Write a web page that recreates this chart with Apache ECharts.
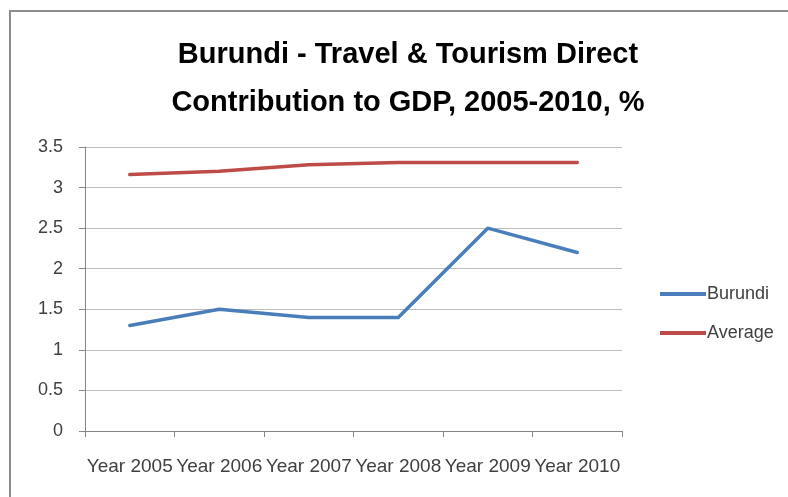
<!DOCTYPE html>
<html>
<head>
<meta charset="utf-8">
<script src="https://cdn.jsdelivr.net/npm/echarts@6/dist/echarts.min.js"></script>
<style>
  html, body { margin: 0; padding: 0; background: #ffffff; }
  #chart { width: 788px; height: 497px; }
</style>
</head>
<body>
<div id="chart"></div>
<script>
// Categories and series values
const years = ['Year 2005', 'Year 2006', 'Year 2007', 'Year 2008', 'Year 2009', 'Year 2010'];
const burundi = [1.3, 1.5, 1.4, 1.4, 2.5, 2.2];
const average = [3.16, 3.2, 3.28, 3.31, 3.31, 3.31];
const seriesNames = ['Burundi', 'Average'];

const FONT = '"Liberation Sans", Arial, sans-serif';
const chart = echarts.init(document.getElementById('chart'), null, { renderer: 'canvas' });

chart.setOption({
  backgroundColor: '#ffffff',
  animation: false,
  graphic: [{
    type: 'rect',
    shape: { x: 10, y: 11, width: 800, height: 500 },
    style: { fill: 'none', stroke: '#8c8c8c', lineWidth: 2 },
    silent: true
  }],
  title: {
    text: 'Burundi - Travel & Tourism Direct\nContribution to GDP, 2005-2010, %',
    left: 403,
    textAlign: 'center',
    top: 26,
    textStyle: {
      fontFamily: FONT,
      fontSize: 29,
      fontWeight: 'bold',
      color: '#000000',
      lineHeight: 48
    }
  },
  legend: {
    orient: 'vertical',
    left: 655,
    top: 280,
    itemWidth: 46,
    itemHeight: 4,
    itemGap: 21,
    icon: 'rect',
    textStyle: { fontFamily: FONT, fontSize: 18, color: '#404040', padding: [0, 0, 0, -4] },
    data: seriesNames
  },
  grid: { left: 85, right: 166, top: 147, bottom: 66, containLabel: false },
  xAxis: {
    type: 'category',
    data: years,
    boundaryGap: true,
    axisLine: { lineStyle: { color: '#868686', width: 1 } },
    axisTick: { show: true, length: 6, lineStyle: { color: '#868686' } },
    axisLabel: {
      interval: 0,
      fontFamily: FONT,
      fontSize: 19,
      color: '#404040',
      margin: 26
    },
    splitLine: { show: false }
  },
  yAxis: {
    type: 'value',
    min: 0,
    max: 3.5,
    interval: 0.5,
    axisLine: { show: true, lineStyle: { color: '#868686', width: 1 } },
    axisTick: { show: true, length: 6, lineStyle: { color: '#868686' } },
    axisLabel: {
      fontFamily: FONT,
      fontSize: 18,
      color: '#404040',
      margin: 22,
      formatter: v => String(v)
    },
    splitLine: { lineStyle: { color: '#bdbdbd', width: 1.2 } }
  },
  series: [
    {
      name: seriesNames[0],
      type: 'line',
      data: burundi,
      symbol: 'none',
      lineStyle: { color: '#4a7ebb', width: 3.5, cap: 'round', join: 'round' },
      itemStyle: { color: '#4a7ebb' }
    },
    {
      name: seriesNames[1],
      type: 'line',
      data: average,
      symbol: 'none',
      lineStyle: { color: '#be4b48', width: 3.5, cap: 'round', join: 'round' },
      itemStyle: { color: '#be4b48' }
    }
  ]
});
</script>
</body>
</html>
